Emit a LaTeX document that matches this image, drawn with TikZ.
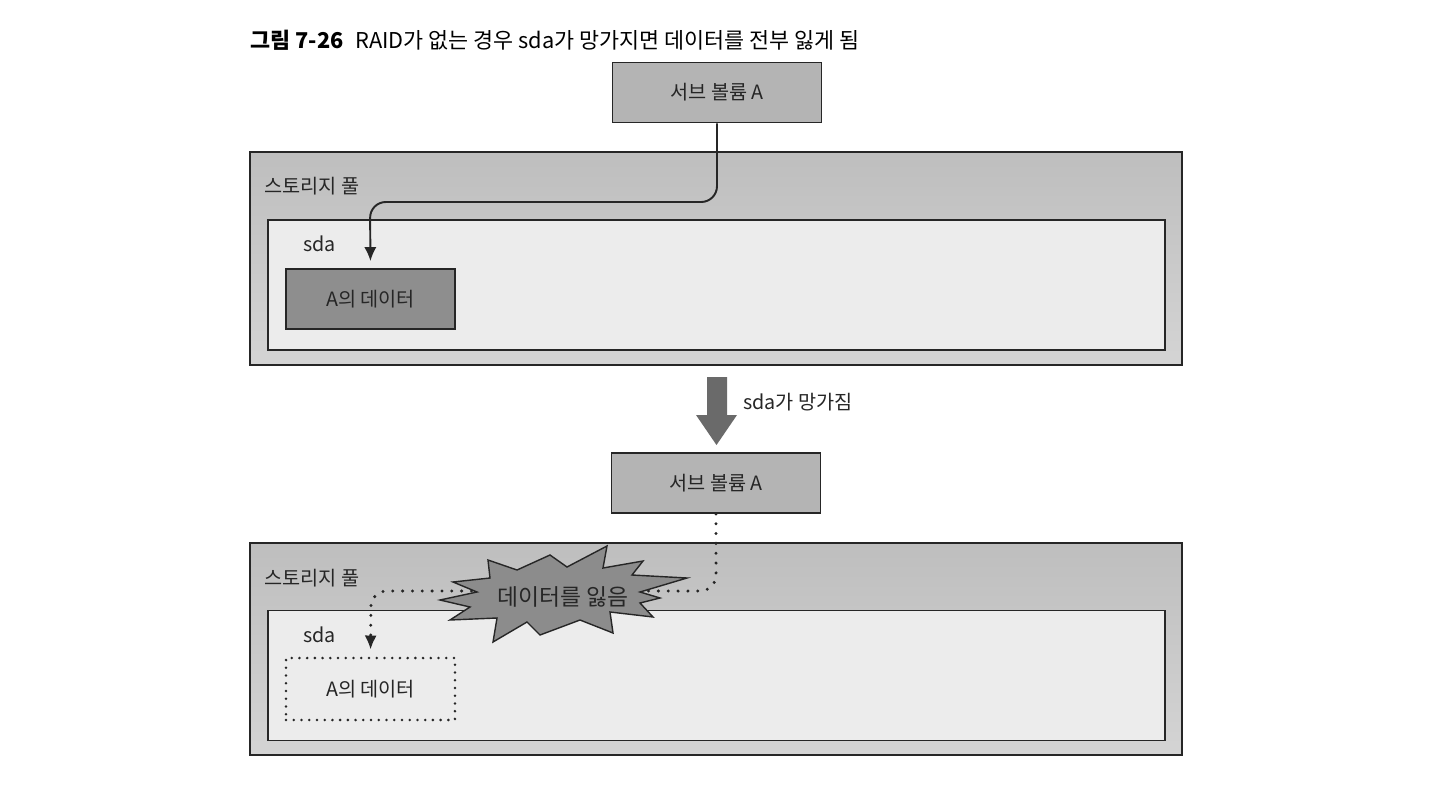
\documentclass[tikz,border=0pt]{standalone}
\usepackage{fontspec}
\setmainfont{Noto Sans CJK KR}
\usetikzlibrary{arrows.meta}

\definecolor{edgegray}{HTML}{262626}
\definecolor{volgray}{HTML}{B4B4B4}
\definecolor{pooltop}{HTML}{BEBEBE}
\definecolor{poolbot}{HTML}{D4D4D4}
\definecolor{diskgray}{HTML}{ECECEC}
\definecolor{datagray}{HTML}{8E8E8E}
\definecolor{burstgray}{HTML}{8C8C8C}
\definecolor{bigarrow}{HTML}{6A6A6A}

\begin{document}
\begin{tikzpicture}[x=0.02cm, y=-0.02cm, >={Latex[length=8pt,width=7pt]},
  every node/.style={text=black!85, font=\fontsize{11.2}{13}\selectfont},
  subvol/.style={draw=edgegray, line width=1pt, fill=volgray, minimum width=4.18cm, minimum height=1.2cm},
  pool/.style={draw=edgegray, line width=1pt, top color=pooltop, bottom color=poolbot, minimum width=18.64cm, minimum height=4.25cm},
  disk/.style={draw=edgegray, line width=1pt, fill=diskgray, minimum width=17.94cm, minimum height=2.6cm},
  data/.style={draw=edgegray, line width=1pt, fill=datagray, minimum width=3.38cm, minimum height=1.2cm},
  lostdata/.style={draw=edgegray, line width=1.6pt, line cap=round, dash pattern=on 0pt off 4.4pt, minimum width=3.38cm, minimum height=1.24cm},
  flow/.style={->, draw=edgegray, line width=1.1pt, rounded corners=9pt, shorten >=4pt},
  lostflow/.style={->, draw=edgegray, line width=1.9pt, line cap=round, dash pattern=on 0pt off 5.6pt, rounded corners=9pt, shorten >=4pt}]

  \useasboundingbox (0,0) rectangle (1434,788);
  \fill[white] (0,0) rectangle (1434,788);

  \node (title) at (250,40) [anchor=west, inner xsep=0pt, font=\fontsize{12.4}{14}\selectfont, text=black]
    {\textbf{그림 7-26}\hspace{0.55em}RAID가 없는 경우 sda가 망가지면 데이터를 전부 잃게 됨};

  % before the failure
  \node (sv1) at (717,92.5) [subvol] {서브 볼륨 A};
  \node (pool1) at (716,258.5) [pool] {};
  \node (sda1) at (716.5,285) [disk] {};
  \node (data1) at (370.5,299) [data] {A의 데이터};
  \node (pool1lbl) at (258,186) [anchor=west] {스토리지 풀};
  \node (sda1lbl) at (297,244) [anchor=west] {sda};

  \draw [flow] (sv1.south) |- (370,202) -- (data1.north);

  % failure
  \fill [bigarrow] (707,377) -- (727,377) -- (727,415) -- (737,415) -- (716.5,445)
    -- (696,415) -- (707,415) -- cycle;
  \node (fail) at (737,402) [anchor=west] {sda가 망가짐};

  % after the failure
  \node (sv2) at (716,483) [subvol] {서브 볼륨 A};
  \node (pool2) at (716,649) [pool] {};
  \node (sda2) at (716.5,675.5) [disk] {};
  \node (data2) at (370.5,689) [lostdata] {A의 데이터};
  \node (pool2lbl) at (258,578) [anchor=west] {스토리지 풀};
  \node (sda2lbl) at (297,635) [anchor=west] {sda};

  \draw [lostflow] (sv2.south) |- (371,591) -- (data2.north);

  % burst
  \filldraw [draw=edgegray, line width=0.8pt, fill=burstgray, line join=miter]
    (488,560) -- (517,570) -- (550,555) -- (567,567) -- (607,546) -- (603,568)
    -- (643,561) -- (632,575) -- (687,578) -- (640,592) -- (660,598) -- (640,603)
    -- (653,617) -- (610,612) -- (613,633) -- (580,620) -- (540,635) -- (527,622)
    -- (493,642) -- (497,618) -- (450,620) -- (470,607) -- (440,600) -- (477,592)
    -- (453,582) -- (490,578) -- cycle;
  \node (lost) at (563,597) [font=\fontsize{13}{15}\selectfont] {데이터를 잃음};

\end{tikzpicture}
\end{document}
